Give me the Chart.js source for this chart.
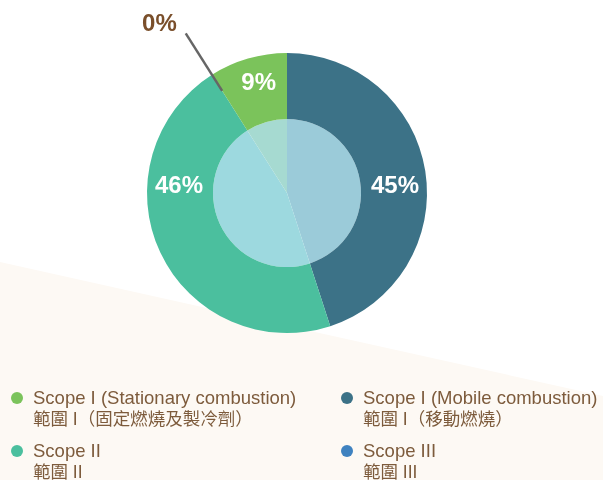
<!DOCTYPE html>
<html>
<head>
<meta charset="utf-8">
<script src="https://cdn.jsdelivr.net/npm/chart.js@4.4.0/dist/chart.umd.min.js"></script>
<style>
  html, body { margin: 0; padding: 0; background: #ffffff; }
  #wrap { position: relative; width: 603px; height: 480px; overflow: hidden; }
  #peach { position: absolute; left: 0; top: 0; width: 603px; height: 480px;
           background: #fdf9f4; clip-path: polygon(0 262px, 603px 396px, 603px 480px, 0 480px); }
  #c { position: absolute; left: 0; top: 0; }
  .item { position: absolute; font-family: "Liberation Sans", Arial, sans-serif; color: #7d5b3c; }
  .dot { position: absolute; width: 12px; height: 12px; border-radius: 50%; }
  .en { position: absolute; white-space: nowrap; font-size: 18.5px; line-height: 20px; }
  .zh { position: absolute; white-space: nowrap; font-size: 17.5px; line-height: 20px;
        font-family: "Liberation Sans", "Noto Sans CJK TC", sans-serif; }
</style>
</head>
<body>
<div id="wrap">
  <div id="peach"></div>
  <canvas id="c" width="603" height="480"></canvas>
  <div id="legend"></div>
</div>
<script>
// ---- data ----
const categories = ['Scope I (Stationary combustion)', 'Scope I (Mobile combustion)', 'Scope II', 'Scope III'];
const categoriesZh = ['範圍 I（固定燃燒及製冷劑）', '範圍 I（移動燃燒）', '範圍 II', '範圍 III'];
const shares = [9, 45, 46, 0];
const shareLabels = ['9%', '45%', '46%', '0%'];
// clockwise drawing order from 12 o'clock
const drawOrder = [1, 2, 3, 0];

// ---- styles ----
const outerColors = ['#7bc35b', '#3c7287', '#4bbf9e', '#3f82c0'];
const innerColors = ['#a6dad1', '#9bcbd9', '#9dd9df', '#9dd3e0'];

const ordLabels = drawOrder.map(i => categories[i]);
const ordValues = drawOrder.map(i => shares[i]);
const ordText = drawOrder.map(i => shareLabels[i]);

// label placement (polar, degrees clockwise from top) per drawn slice
const labelPlacement = [
  { angle: 90, r: 108, dy: -7 },      // Mobile
  { angle: 270, r: 108, dy: -7 },     // Scope II
  { leader: true },                   // Scope III
  { angle: 345.5, r: 113, dy: 0 }     // Stationary
];

const labelPlugin = {
  id: 'sliceLabels',
  afterDatasetsDraw(chart) {
    const ctx = chart.ctx;
    const meta = chart.getDatasetMeta(0);
    ctx.save();
    meta.data.forEach((arc, k) => {
      const p = labelPlacement[k];
      const cx = arc.x, cy = arc.y;
      if (p.leader) {
        const a = arc.startAngle;
        const x1 = cx + Math.cos(a) * 121, y1 = cy + Math.sin(a) * 121;
        const x2 = cx + Math.cos(a) * 189, y2 = cy + Math.sin(a) * 189;
        ctx.strokeStyle = '#666666';
        ctx.lineWidth = 2.5;
        ctx.beginPath(); ctx.moveTo(x1, y1); ctx.lineTo(x2, y2); ctx.stroke();
        ctx.fillStyle = '#7a4f2b';
        ctx.font = 'bold 24px "Liberation Sans", Arial, sans-serif';
        ctx.textAlign = 'right';
        ctx.textBaseline = 'middle';
        ctx.fillText(ordText[k], x2 - 9, y2 - 9);
      } else {
        const a = (p.angle - 90) * Math.PI / 180;
        const x = cx + Math.cos(a) * p.r, y = cy + Math.sin(a) * p.r + p.dy;
        ctx.fillStyle = '#ffffff';
        ctx.font = 'bold 24px "Liberation Sans", Arial, sans-serif';
        ctx.textAlign = 'center';
        ctx.textBaseline = 'middle';
        ctx.fillText(ordText[k], x, y);
      }
    });
    ctx.restore();
  }
};

new Chart(document.getElementById('c'), {
  type: 'doughnut',
  data: {
    labels: ordLabels,
    datasets: [
      { data: ordValues, backgroundColor: drawOrder.map(i => outerColors[i]), borderWidth: 0, weight: 66 },
      { data: ordValues, backgroundColor: drawOrder.map(i => innerColors[i]), borderWidth: 0, weight: 74 }
    ]
  },
  options: {
    responsive: false,
    animation: false,
    cutout: 0,
    layout: { padding: { top: 53, bottom: 147, left: 147, right: 176 } },
    plugins: { legend: { display: false }, tooltip: { enabled: false } }
  },
  plugins: [labelPlugin]
});

// ---- HTML legend (two columns, two rows) ----
const legendOrder = [0, 1, 2, 3];
const colX = [11, 341];
const rowY = [398, 451];
const legend = document.getElementById('legend');
legendOrder.forEach((i, n) => {
  const col = n % 2, row = Math.floor(n / 2);
  const item = document.createElement('div');
  item.className = 'item';
  item.style.left = colX[col] + 'px';
  item.style.top = '0px';
  const dot = document.createElement('div');
  dot.className = 'dot';
  dot.style.background = outerColors[i];
  dot.style.left = '0px';
  dot.style.top = (rowY[row] - 6) + 'px';
  const en = document.createElement('div');
  en.className = 'en';
  en.textContent = categories[i];
  en.style.left = '22px';
  en.style.top = (rowY[row] - 10) + 'px';
  const zh = document.createElement('div');
  zh.className = 'zh';
  zh.textContent = categoriesZh[i];
  zh.style.left = '22px';
  zh.style.top = (rowY[row] + 11) + 'px';
  item.appendChild(dot); item.appendChild(en); item.appendChild(zh);
  legend.appendChild(item);
});
</script>
</body>
</html>
